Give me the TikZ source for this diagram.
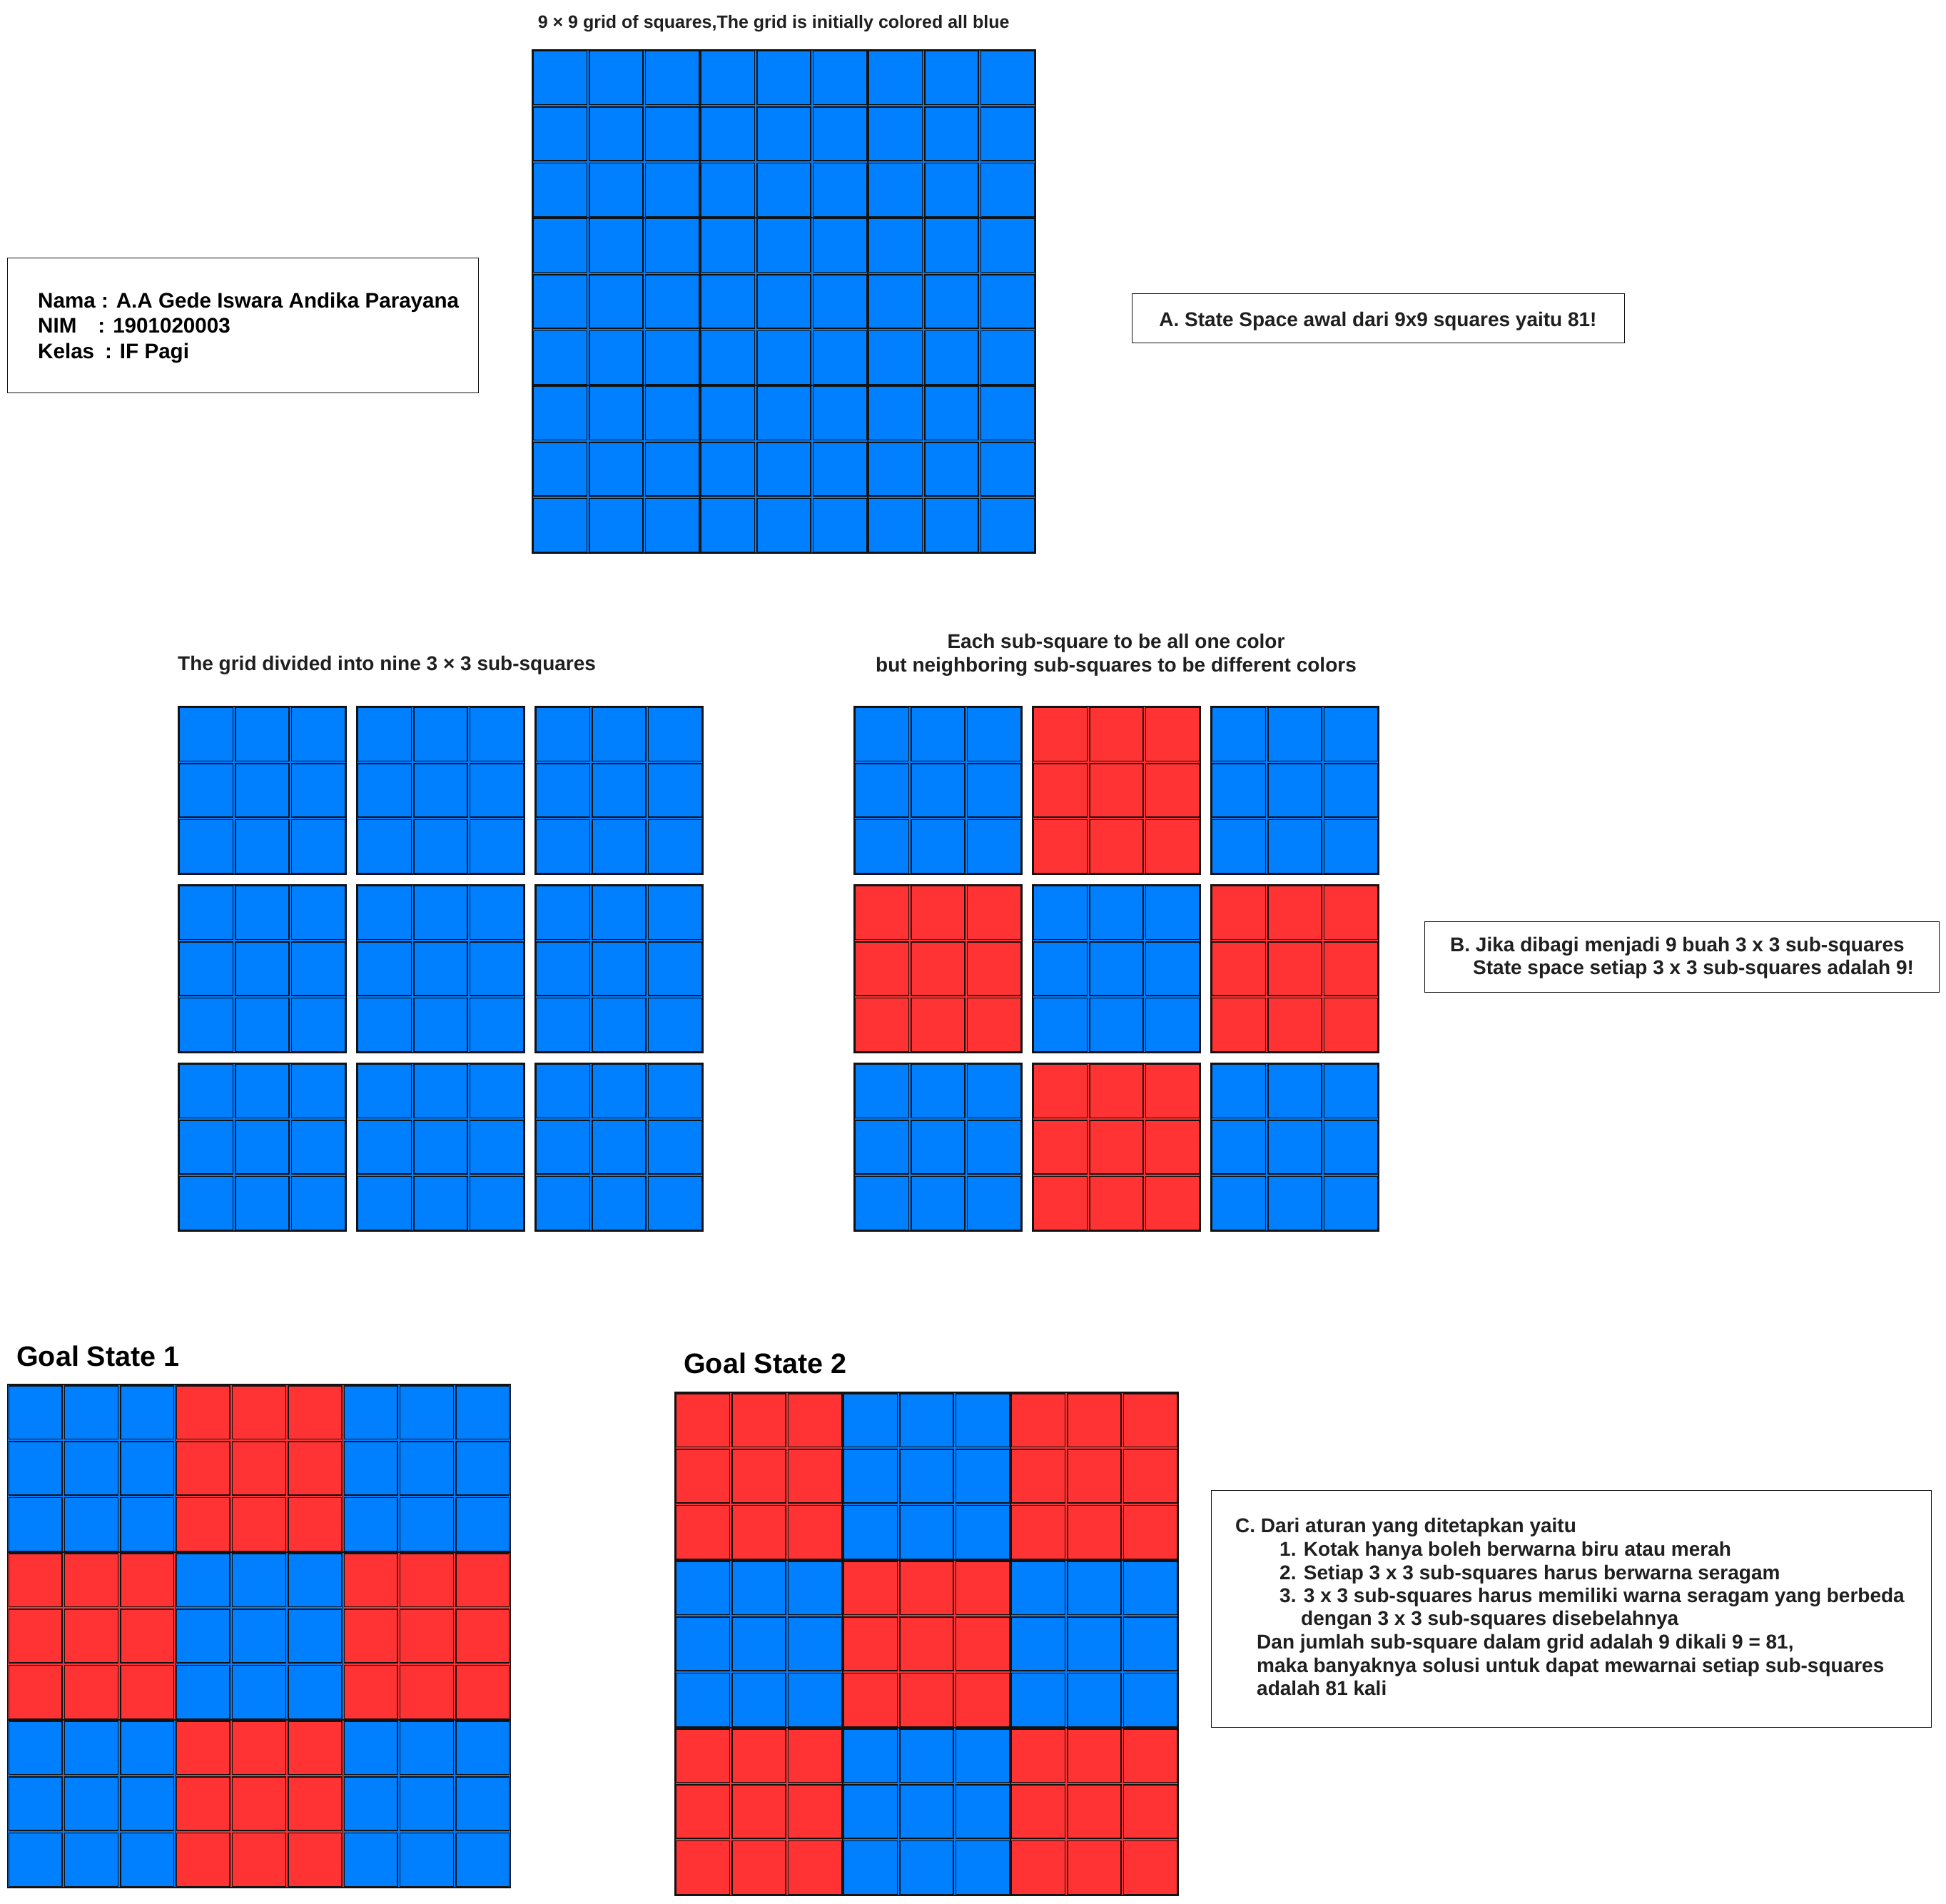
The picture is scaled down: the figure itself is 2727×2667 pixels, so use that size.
\documentclass[tikz,border=0pt]{standalone}
\usepackage{fontspec}
\setmainfont{Liberation Sans}
\definecolor{cblue}{HTML}{007FFF}
\definecolor{cred}{HTML}{FF3333}
\definecolor{cline}{HTML}{121212}
\definecolor{ctext}{HTML}{1F1F1F}
\tikzset{
  cellline/.style={draw=cline, line width=1.35pt},
  boxframe/.style={draw=cline, line width=1.2pt, fill=white, inner sep=0pt},
  lbl/.style={font=\fontsize{28}{33}\selectfont\bfseries, text=ctext, inner sep=0pt},
  namelbl/.style={font=\fontsize{29.6}{36}\selectfont\bfseries, text=black, inner sep=0pt},
  toplbl/.style={font=\fontsize{25}{30}\selectfont\bfseries, text=ctext, inner sep=0pt},
  goallbl/.style={font=\fontsize{39.5}{46}\selectfont\bfseries, text=black, inner sep=0pt},
}
\newcommand\subblock[3]{%
  \fill[fill=#3] (#1,#2) rectangle ++(235,235);
  \foreach \i in {0,1,2}{\foreach \j in {0,1,2}{
    \draw[cellline] ({#1+\i*78.333+1.8},{#2+\j*78.333+1.8}) rectangle ++(74.73,74.73);}}
  \draw[cellline] (#1,#2) rectangle ++(235,235);
}
\begin{document}
\begin{tikzpicture}[x=1pt,y=-1pt]
\useasboundingbox (0,0) rectangle (2727,2667);
\fill[white] (0,0) rectangle (2727,2667);

% top grid
\node[toplbl, anchor=base west] (toptitle) at (753.6,39) {9 × 9 grid of squares,The grid is initially colored all blue};
\foreach \k in {0,...,8}{
  \pgfmathtruncatemacro\bi{mod(\k,3)}\pgfmathtruncatemacro\bj{div(\k,3)}
  \subblock{746+\bi*235}{70+\bj*235}{cblue}
}

% name box
\node[boxframe, anchor=north west, minimum width=660pt, minimum height=189pt] (namebox) at (10,361) {};
\node[namelbl, anchor=base west] (name1) at (53,431) {Nama : A.A Gede Iswara Andika Parayana};
\node[namelbl, anchor=base west] (name2) at (53,466) {NIM\hspace*{30pt}: 1901020003};
\node[namelbl, anchor=base west] (name3) at (53,502) {Kelas\hspace*{15pt}: IF Pagi};

% A box
\node[boxframe, anchor=north west, minimum width=690pt, minimum height=69pt] (abox) at (1586,411) {};
\node[lbl, anchor=base] (atext) at (1931,457) {A. State Space awal dari 9x9 squares yaitu 81!};

% middle left
\node[lbl, anchor=base west] (midl) at (249,939) {The grid divided into nine 3 × 3 sub-squares};
\foreach \k in {0,...,8}{
  \pgfmathtruncatemacro\bi{mod(\k,3)}\pgfmathtruncatemacro\bj{div(\k,3)}
  \subblock{250+\bi*250}{990+\bj*250}{cblue}
}

% middle right
\node[lbl, anchor=base] (midr1) at (1564,908) {Each sub-square to be all one color};
\node[lbl, anchor=base] (midr2) at (1564,941) {but neighboring sub-squares to be different colors};
\foreach \c [count=\k from 0] in {cblue,cred,cblue,cred,cblue,cred,cblue,cred,cblue}{
  \pgfmathtruncatemacro\bi{mod(\k,3)}\pgfmathtruncatemacro\bj{div(\k,3)}
  \subblock{1197+\bi*250}{990+\bj*250}{\c}
}

% B box
\node[boxframe, anchor=north west, minimum width=721pt, minimum height=99pt] (bbox) at (1996,1291) {};
\node[lbl, anchor=base west] (b1) at (2032,1333) {B. Jika dibagi menjadi 9 buah 3 x 3 sub-squares};
\node[lbl, anchor=base west] (b2) at (2064,1365) {State space setiap 3 x 3 sub-squares adalah 9!};

% goal state 1
\node[goallbl, anchor=base west] (g1) at (23,1914) {Goal State 1};
\foreach \c [count=\k from 0] in {cblue,cred,cblue,cred,cblue,cred,cblue,cred,cblue}{
  \pgfmathtruncatemacro\bi{mod(\k,3)}\pgfmathtruncatemacro\bj{div(\k,3)}
  \subblock{10.5+\bi*235}{1940+\bj*235}{\c}
}

% goal state 2
\node[goallbl, anchor=base west] (g2) at (958,1924) {Goal State 2};
\foreach \c [count=\k from 0] in {cred,cblue,cred,cblue,cred,cblue,cred,cblue,cred}{
  \pgfmathtruncatemacro\bi{mod(\k,3)}\pgfmathtruncatemacro\bj{div(\k,3)}
  \subblock{946+\bi*235}{1951+\bj*235}{\c}
}

% C box
\node[boxframe, anchor=north west, minimum width=1009pt, minimum height=332pt] (cbox) at (1697,2088) {};
\node[lbl, anchor=base west] (c1) at (1731,2147) {C. Dari aturan yang ditetapkan yaitu};
\node[lbl, anchor=base west] (c2) at (1793,2180) {1. Kotak hanya boleh berwarna biru atau merah};
\node[lbl, anchor=base west] (c3) at (1793,2213) {2. Setiap 3 x 3 sub-squares harus berwarna seragam};
\node[lbl, anchor=base west] (c4) at (1793,2245) {3. 3 x 3 sub-squares harus memiliki warna seragam yang berbeda};
\node[lbl, anchor=base west] (c5) at (1823,2277) {dengan 3 x 3 sub-squares disebelahnya};
\node[lbl, anchor=base west] (c6) at (1761,2310) {Dan jumlah sub-square dalam grid adalah 9 dikali 9 = 81,};
\node[lbl, anchor=base west] (c7) at (1761,2343) {maka banyaknya solusi untuk dapat mewarnai setiap sub-squares};
\node[lbl, anchor=base west] (c8) at (1761,2375) {adalah 81 kali};
\end{tikzpicture}
\end{document}
